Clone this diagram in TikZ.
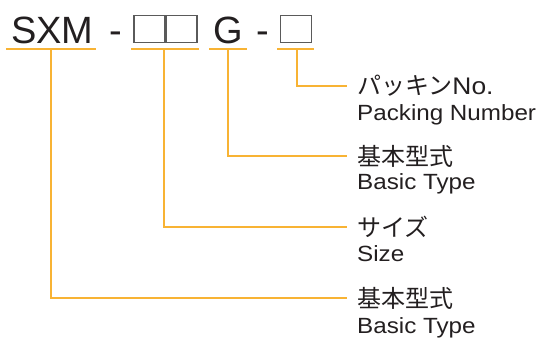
\documentclass[tikz,border=0pt]{standalone}
\usepackage{fontspec}
\setmainfont{Liberation Sans}
\newfontfamily\jpfont{Noto Sans CJK JP}
\newfontfamily\widefont[FakeStretch=1.1]{Liberation Sans}
\usetikzlibrary{positioning}
\definecolor{ink}{HTML}{231F20}
\definecolor{leadcol}{HTML}{F8B334}
\definecolor{boxgray}{HTML}{5A5A5A}

\begin{document}
\begin{tikzpicture}[x=1pt,y=-1pt,
  every node/.style={inner sep=0pt,text=ink},
  code/.style={font=\fontsize{38}{38}\selectfont,anchor=base west},
  slot/.style={draw=boxgray,line width=1.8pt,minimum width=31pt,minimum height=27pt},
  jp/.style={font=\jpfont\fontsize{24}{24}\selectfont,anchor=west},
  en/.style={font=\widefont\fontsize{22}{22}\selectfont,anchor=base west},
  lead/.style={draw=leadcol,line width=1.5pt}
]
\useasboundingbox (0,0) rectangle (540,338);
% model code
\node[code] (sxm) at (11,43) {SXM};
\node[code] (dash1) at (109,43) {-};
\node[slot] (size1) at (149.5,29) {};
\node[slot] (size2) at (181.5,29) {};
\node[code] (grade) at (213,43) {G};
\node[code] (dash2) at (256,43) {-};
\node[slot] (packing) at (296,29) {};
% underlines
\coordinate (ul1a) at (6,49);   \coordinate (ul1b) at (96,49);
\coordinate (ul2a) at (131,49); \coordinate (ul2b) at (199,49);
\coordinate (ul3a) at (209,49); \coordinate (ul3b) at (247,49);
\coordinate (ul4a) at (277,49); \coordinate (ul4b) at (314,49);
\coordinate (tap1) at (51,49);
\coordinate (tap2) at (164,49);
\coordinate (tap3) at (228,49);
\coordinate (tap4) at (297,49);
\draw[lead] (ul1a) -- (ul1b);
\draw[lead] (ul2a) -- (ul2b);
\draw[lead] (ul3a) -- (ul3b);
\draw[lead] (ul4a) -- (ul4b);
% labels
\node[jp] (packjp) at (357,86) {パッキン{\widefont No.}};
\node[en] (packen) at (357,120) {Packing Number};
\node[jp] (typejp) at (357,156) {基本型式};
\node[en] (typeen) at (357,189) {Basic Type};
\node[jp] (sizejp) at (357,227) {サイズ};
\node[en] (sizeen) at (357,261) {Size};
\node[jp] (basejp) at (357,298) {基本型式};
\node[en] (baseen) at (357,333) {Basic Type};
% leaders
\draw[lead] (tap4) |- ([xshift=-10pt]packjp.west);
\draw[lead] (tap3) |- ([xshift=-10pt]typejp.west);
\draw[lead] (tap2) |- ([xshift=-10pt]sizejp.west);
\draw[lead] (tap1) |- ([xshift=-10pt]basejp.west);
\end{tikzpicture}
\end{document}
